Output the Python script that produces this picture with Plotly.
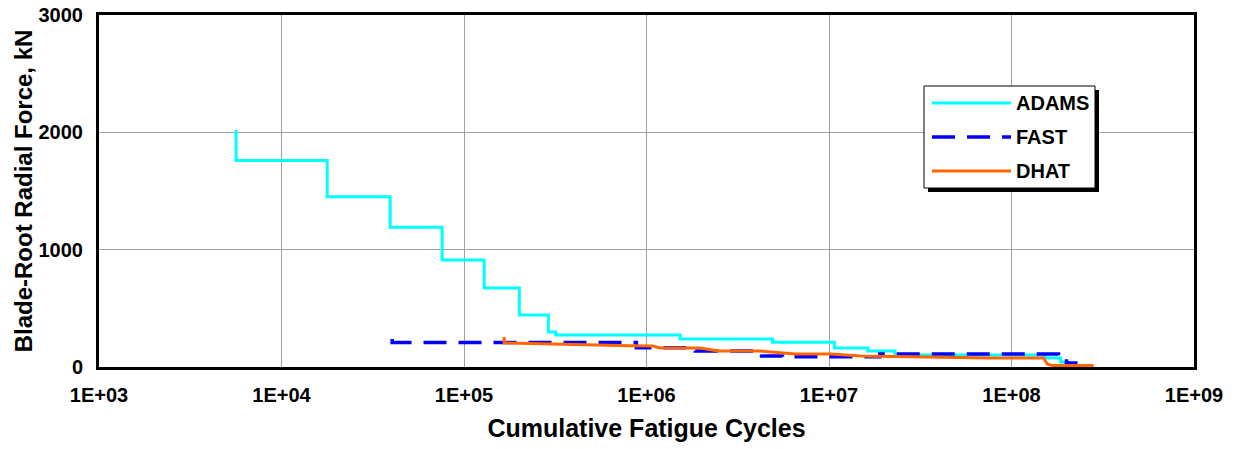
import plotly.graph_objects as go

# ---------------- data ----------------
adams_cycles = [5640, 5640, 17800, 39400, 75900, 129000, 201000, 290000, 318000,
                1.53e6, 4.9e6, 1.07e7, 1.63e7, 2.3e7, 1.53e8, 1.86e8, 2.06e8]
adams_force = [2020, 1760, 1450, 1190, 912, 673, 443, 298, 273,
               239, 210, 162, 136, 102, 77, 43, 43]

fast_cycles = [40400, 40400, 8.8e5, 1.85e6, 4.27e6, 5.56e6, 1.9e7, 1.81e8, 2.0e8, 2.3e8]
fast_force = [239, 208, 165, 136, 94, 88, 111, 68, 34, 34]

dhat_cycles = [1.66e5, 1.66e5, 8.15e5, 1.08e6, 1.19e6, 1.97e6, 2.48e6, 4.21e6,
               6.55e6, 1.02e7, 1.49e7, 7.67e7, 1.50e8, 1.57e8, 1.68e8, 2.82e8]
dhat_force = [256, 205, 182, 179, 162, 162, 136, 136,
              111, 111, 94, 77, 77, 26, 12, 12]

series_names = ["ADAMS", "FAST", "DHAT"]
x_tickvals = [1e3, 1e4, 1e5, 1e6, 1e7, 1e8, 1e9]
x_ticktext = ["1E+03", "1E+04", "1E+05", "1E+06", "1E+07", "1E+08", "1E+09"]
y_tickvals = [0, 1000, 2000, 3000]
y_ticktext = ["0", "1000", "2000", "3000"]

# ---------------- styles ----------------
colors = {"ADAMS": "#00FFFF", "FAST": "#0000FF", "DHAT": "#FF6600"}
FONT = "Liberation Sans, Arial, sans-serif"

fig = go.Figure()
fig.add_trace(go.Scatter(x=adams_cycles, y=adams_force, name=series_names[0], mode="lines",
                         line=dict(color=colors["ADAMS"], width=3, shape="hv")))
fig.add_trace(go.Scatter(x=fast_cycles, y=fast_force, name=series_names[1], mode="lines",
                         line=dict(color=colors["FAST"], width=3.5, shape="hv", dash="23px,12px")))
fig.add_trace(go.Scatter(x=dhat_cycles, y=dhat_force, name=series_names[2], mode="lines",
                         line=dict(color=colors["DHAT"], width=3)))

W, H = 1237, 449
# plot area in pixels: left 99, right 1194, top 15, bottom 367
L, R, T, B = 99, 1194, 15, 367
def fx(p):
    return (p - L) / (R - L)
def fy(p):
    return (B - p) / (B - T)

shapes = []
# legend shadow + box
shapes.append(dict(type="rect", xref="paper", yref="paper", layer="above",
                   x0=fx(928), x1=fx(1099), y0=fy(192), y1=fy(90),
                   fillcolor="black", line=dict(width=0)))
shapes.append(dict(type="rect", xref="paper", yref="paper", layer="above",
                   x0=fx(924), x1=fx(1095), y0=fy(188), y1=fy(86),
                   fillcolor="white", line=dict(color="black", width=1)))
annotations = []
legend_rows = [103, 137, 171]
for name, row in zip(series_names, legend_rows):
    dash = "23px,12px" if name == "FAST" else "solid"
    width = 3.5 if name == "FAST" else 3
    shapes.append(dict(type="line", xref="paper", yref="paper", layer="above",
                       x0=fx(932), x1=fx(1011), y0=fy(row), y1=fy(row),
                       line=dict(color=colors[name], width=width, dash=dash)))
    annotations.append(dict(xref="paper", yref="paper", x=fx(1014), y=fy(row),
                            xanchor="left", yanchor="middle", showarrow=False,
                            text=name, font=dict(family=FONT, size=20, color="black", weight="bold")))

fig.update_layout(
    width=W, height=H,
    margin=dict(l=L, r=W - R, t=T, b=H - B),
    paper_bgcolor="white", plot_bgcolor="white",
    showlegend=False,
    shapes=shapes, annotations=annotations,
    font=dict(family=FONT, color="black"),
)
fig.update_xaxes(
    type="log", range=[3, 9], tickvals=x_tickvals, ticktext=x_ticktext,
    showgrid=True, gridcolor="#A0A0A0", gridwidth=1,
    showline=True, linecolor="black", linewidth=3, mirror=True,
    ticks="", ticklabelstandoff=8, ticklabeloverflow="allow",
    tickfont=dict(family=FONT, size=20, color="black", weight="bold"),
    title=dict(text="Cumulative Fatigue Cycles", standoff=15,
               font=dict(family=FONT, size=25, color="black", weight="bold")),
    automargin=False,
)
fig.update_yaxes(
    range=[0, 3000], tickvals=y_tickvals, ticktext=y_ticktext,
    showgrid=True, gridcolor="#A0A0A0", gridwidth=1, zeroline=False,
    showline=True, linecolor="black", linewidth=3, mirror=True,
    ticks="", ticklabelstandoff=9, ticklabeloverflow="allow",
    tickfont=dict(family=FONT, size=20, color="black", weight="bold"),
    title=dict(text="Blade-Root Radial Force, kN", standoff=0,
               font=dict(family=FONT, size=24, color="black", weight="bold")),
    automargin=False,
)

fig.write_html("out.html", config={"displayModeBar": False},
               post_script="document.body.style.margin='0';")
